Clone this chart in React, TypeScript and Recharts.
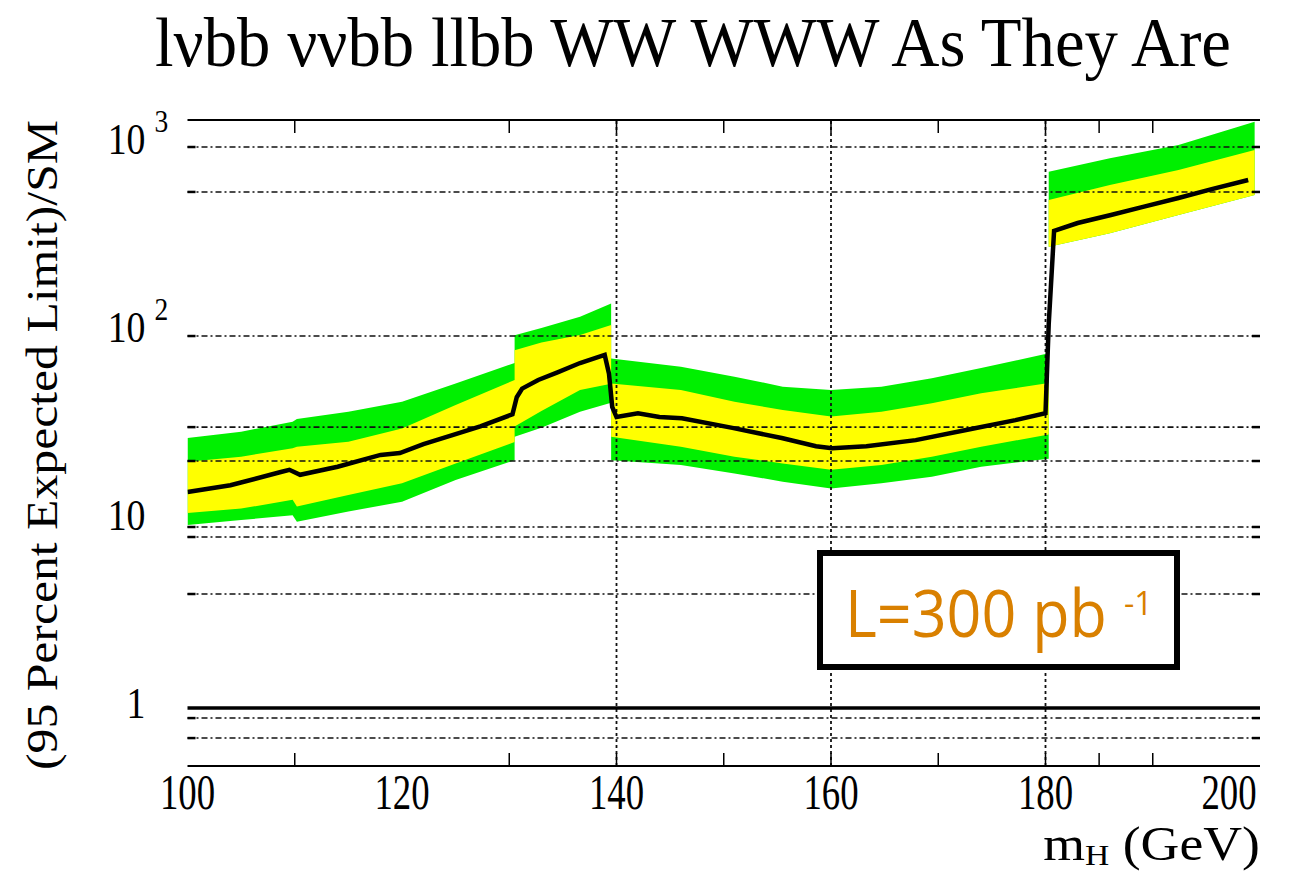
import React from "react";
import {
  ComposedChart,
  Area,
  Line,
  XAxis,
  YAxis,
  ReferenceLine,
} from "recharts";

// mass points where the band edges are sampled (duplicated x = step between channels)
const M_BAND = [
  100, 105, 109.8, 110.2, 115, 120, 125, 130.5,
  130.5, 133, 136.6, 139.5,
  139.5, 146, 151, 155.5, 160, 164.7, 169.4, 174, 180.3,
  180.3, 186, 192.4, 199.5,
];
const GREEN_LO = [
  9.4, 10.0, 10.6, 9.8, 11.1, 12.5, 16.3, 20.8,
  27.7, 31, 37.7, 42,
  20.8, 19.6, 17.7, 16.0, 14.7, 15.7, 17.0, 19.2, 21.2,
  284, 335, 419, 535,
];
const YELLOW_LO = [
  10.9, 11.5, 12.8, 11.8, 13.6, 15.7, 20.0, 26.0,
  31.4, 38, 49.1, 53,
  27.7, 24.5, 21.7, 20.0, 18.5, 19.6, 21.7, 24.5, 28.5,
  284, 335, 419, 535,
];
const YELLOW_HI = [
  20.4, 21.7, 24.1, 24.5, 26.1, 30.7, 40.9, 55.6,
  80, 88, 96.4, 109,
  53.3, 49.1, 42.6, 38.5, 35.5, 37.7, 41.8, 47.3, 53.5,
  504, 605, 727, 929,
];
const GREEN_HI = [
  27.3, 29.5, 33.3, 34.5, 37.7, 42.6, 53.3, 68.4,
  96, 105, 120.6, 142,
  72.4, 65.4, 57.9, 51.2, 49.1, 51.2, 56.7, 64.3, 77,
  712, 839, 988, 1314,
];

// median expected limit
const M_LINE = [
  100, 104, 108.7, 109.5, 110.5, 114, 118, 119.8, 122, 124.7, 127.3, 130.3,
  130.7, 131.2, 132.7, 134.5, 136.6, 138.9, 139.3, 139.6, 140, 142, 144,
  146.1, 150.8, 155.4, 158.6, 160.1, 163.3, 167.9, 172.6, 177.2, 180,
  180.3, 180.8, 183, 186.1, 189, 192.4, 195.5, 198.9,
];
const LIMIT = [
  14.1, 15.3, 18.0, 18.5, 17.4, 19.2, 22.2, 22.7, 25.3, 28.3, 31.5, 36.5,
  45, 50, 55.6, 61, 68.4, 75.5, 60, 40, 35.3, 37, 35.3,
  34.8, 30.9, 27.3, 24.7, 24.1, 24.7, 26.6, 30.1, 34.0, 37,
  110, 345, 380, 419, 462, 516, 575, 644,
];

const X_LABELS = [100, 120, 140, 160, 180, 200];
const X_MINOR = [110, 130, 140, 150, 160, 170, 180, 185, 190];
const X_GRID = [140, 160, 180];
const Y_LABELS = [1, 10, 100, 1000];
const Y_GRID = [0.692, 0.884, 4.04, 8.12, 9.18, 20.6, 31.2, 95.2, 556, 964];
const Y_MIN = 0.4915;
const Y_MAX = 1342;

const bandData = M_BAND.map((m, i) => ({
  m,
  green: [GREEN_LO[i], GREEN_HI[i]],
  yellow: [YELLOW_LO[i], YELLOW_HI[i]],
}));
const lineData = M_LINE.map((m, i) => ({ m, v: LIMIT[i] }));

const SERIF = "'Liberation Serif', 'DejaVu Serif', serif";
const SANS = "'Open Sans', 'DejaVu Sans', sans-serif";
const GRID_DASH = "6 3 2 3";

const BottomTick = (props: any) => {
  const { x, y, payload } = props;
  const v = payload.value;
  // last label is pulled inside the frame, like ROOT does
  const lx = v === 200 ? x - 31 : x;
  return (
    <g>
      {X_MINOR.includes(v) && (
        <line x1={x} x2={x} y1={y} y2={y - 13} stroke="#000" strokeWidth={1.5} />
      )}
      {X_LABELS.includes(v) && (
        <g transform={`translate(${lx},${y + 43}) scale(0.8,1.08)`}>
          <text textAnchor="middle" fontFamily={SERIF} fontSize={46} fill="#000">
            {v}
          </text>
        </g>
      )}
    </g>
  );
};

const TopTick = (props: any) => {
  const { x, y } = props;
  return <line x1={x} x2={x} y1={y} y2={y + 13} stroke="#000" strokeWidth={1.5} />;
};

const LeftTick = (props: any) => {
  const { x, y, payload } = props;
  const v = payload.value;
  if (!Y_LABELS.includes(v)) {
    return <line x1={x} x2={x + 8} y1={y} y2={y} stroke="#000" strokeWidth={2.5} />;
  }
  const exp = Math.round(Math.log10(v));
  const base = v === 1 ? "1" : "10";
  return (
    <g>
      <g transform={`translate(${x - 42},${y + 10}) scale(0.86,1)`}>
        <text textAnchor="end" fontFamily={SERIF} fontSize={44} fill="#000">
          {base}
        </text>
      </g>
      {exp > 1 && (
        <g transform={`translate(${x - 33},${y - 12}) scale(0.86,1)`}>
          <text textAnchor="start" fontFamily={SERIF} fontSize={32} fill="#000">
            {exp}
          </text>
        </g>
      )}
    </g>
  );
};

const RightTick = (props: any) => {
  const { x, y } = props;
  return <line x1={x} x2={x - 8} y1={y} y2={y} stroke="#000" strokeWidth={2.5} />;
};

export default function App() {
  return (
    <div style={{ position: "absolute", left: 0, top: 0, width: 1311, height: 873, background: "#fff" }}>
      <ComposedChart
        width={1311}
        height={873}
        margin={{ top: 119, right: 50, bottom: 106, left: 186.5 }}
      >
        <XAxis
          xAxisId="b"
          dataKey="m"
          type="number"
          domain={[100, 200]}
          allowDataOverflow
          ticks={[100, 110, 120, 130, 140, 150, 160, 170, 180, 185, 190, 200]}
          interval={0}
          tick={<BottomTick />}
          tickLine={false}
          tickSize={0}
          tickMargin={0}
          height={1}
          axisLine={{ stroke: "#000", strokeWidth: 2 }}
        />
        <XAxis
          xAxisId="t"
          orientation="top"
          dataKey="m"
          type="number"
          domain={[100, 200]}
          allowDataOverflow
          ticks={X_MINOR}
          interval={0}
          tick={<TopTick />}
          tickLine={false}
          tickSize={0}
          tickMargin={0}
          height={1}
          axisLine={{ stroke: "#000", strokeWidth: 2 }}
        />
        <YAxis
          yAxisId="l"
          scale="log"
          domain={[Y_MIN, Y_MAX]}
          allowDataOverflow
          ticks={[...Y_LABELS, ...Y_GRID]}
          interval={0}
          tick={<LeftTick />}
          tickLine={false}
          tickSize={0}
          tickMargin={0}
          width={1}
          axisLine={false}
        />
        <YAxis
          yAxisId="r"
          orientation="right"
          scale="log"
          domain={[Y_MIN, Y_MAX]}
          allowDataOverflow
          ticks={Y_GRID}
          interval={0}
          tick={<RightTick />}
          tickLine={false}
          tickSize={0}
          tickMargin={0}
          width={1}
          axisLine={false}
        />
        <Area
          xAxisId="b"
          yAxisId="l"
          data={bandData}
          dataKey="green"
          type="linear"
          stroke="none"
          fill="#00f000"
          fillOpacity={1}
          isAnimationActive={false}
        />
        <Area
          xAxisId="b"
          yAxisId="l"
          data={bandData}
          dataKey="yellow"
          type="linear"
          stroke="none"
          fill="#ffff00"
          fillOpacity={1}
          isAnimationActive={false}
        />
        {Y_GRID.map((g) => (
          <ReferenceLine
            key={`h${g}`}
            xAxisId="b"
            yAxisId="l"
            y={g}
            stroke="#111"
            strokeWidth={1.6}
            strokeDasharray={GRID_DASH}
          />
        ))}
        {X_GRID.map((g) => (
          <ReferenceLine
            key={`v${g}`}
            xAxisId="b"
            yAxisId="l"
            x={g}
            stroke="#111"
            strokeWidth={1.8}
            strokeDasharray="3 3"
          />
        ))}
        <ReferenceLine xAxisId="b" yAxisId="l" y={1} stroke="#000" strokeWidth={3.5} />
        <Line
          xAxisId="b"
          yAxisId="l"
          data={lineData}
          dataKey="v"
          type="linear"
          stroke="#000"
          strokeWidth={4.5}
          dot={false}
          isAnimationActive={false}
        />
      </ComposedChart>
      <svg
        width={1311}
        height={873}
        style={{ position: "absolute", left: 0, top: 0, pointerEvents: "none" }}
      >
        <text
          x={155}
          y={66}
          fontFamily={SERIF}
          fontSize={70}
          textLength={1076}
          lengthAdjust="spacingAndGlyphs"
          fill="#000"
        >
          lνbb ννbb llbb WW WWW As They Are
        </text>
        <text
          transform="translate(57,445) rotate(-90)"
          textAnchor="middle"
          fontFamily={SERIF}
          fontSize={44}
          textLength={650}
          lengthAdjust="spacingAndGlyphs"
          fill="#000"
        >
          (95 Percent Expected Limit)/SM
        </text>
        <g transform="translate(1260,860) scale(1.12,1)">
          <text textAnchor="end" fontFamily={SERIF} fontSize={48} fill="#000">
            m
            <tspan fontSize={30} dy={5}>
              H
            </tspan>
            <tspan dy={-5} fontSize={48}>
              {" (GeV)"}
            </tspan>
          </text>
        </g>
        <rect x={820} y={553} width={357} height={114} fill="#fff" stroke="#000" strokeWidth={6} />
        <g transform="translate(845,637) scale(1,1.08)">
          <text x={0} y={0} fontFamily={SANS} fontSize={61} fill="#d98000">
            L=300 pb
          </text>
        </g>
        <text x={1124} y={615} fontFamily={SANS} fontSize={32} fill="#d98000">
          -1
        </text>
      </svg>
    </div>
  );
}
